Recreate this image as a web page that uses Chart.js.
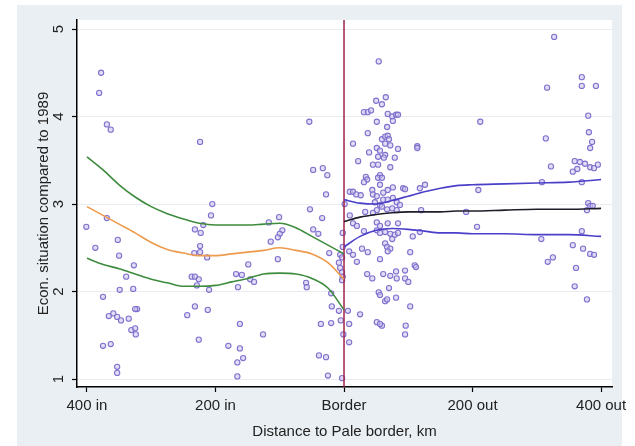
<!DOCTYPE html>
<html>
<head>
<meta charset="utf-8">
<script src="https://cdn.jsdelivr.net/npm/chart.js@4.4.0/dist/chart.umd.min.js"></script>
<style>
  html, body { margin: 0; padding: 0; background: #fff; }
</style>
</head>
<body>
<canvas id="myChart" width="635" height="446"></canvas>
<script>
'use strict';

// axis ticks
let xTickValues = [-400, -200, 0, 200, 400];
let xTickLabels = ['400 in', '200 in', 'Border', '200 out', '400 out'];
let yTickValues = [1, 2, 3, 4, 5];

// respondents inside the Pale (km, score)
let insideDist = [
  -378, -381, -369, -363, -224, -54, -48, -33, -26, -28,
  -205, -207, -369, -401, -53, -101, -34, -117, -219, -232,
  -223, -48, -40, -96, -100, -103, -114, -352, -387, -224,
  -233, -224, -350, -213, -23, -103, -327, -149, -168, -159,
  -146, -140, -339, -237, -232, -226, -229, -165, -349, -328,
  -210, -59, -58, -20, -375, -322, -325, -232, -212, -359,
  -366, -353, -347, -335, -244, -19, -8, -162, -36, -20,
  -5, -331, -325, -324, -126, -226, -375, -363, -180, -162,
  -157, -166, -39, -28, -353, -353, -166, -25, -3, -6,
  -3, -6, -3, -2, -3, -8, -2, -2, -1
];
let insideEcon = [
  4.50, 4.27, 3.91, 3.85, 3.71, 3.94, 3.39, 3.41, 3.33, 3.11,
  3.00, 2.87, 2.84, 2.74, 2.94, 2.85, 2.84, 2.79, 2.76, 2.71,
  2.67, 2.71, 2.66, 2.70, 2.66, 2.62, 2.57, 2.59, 2.50, 2.52,
  2.44, 2.45, 2.41, 2.39, 2.44, 2.37, 2.30, 2.31, 2.20, 2.19,
  2.14, 2.11, 2.17, 2.17, 2.17, 2.14, 2.07, 2.05, 2.02, 2.03,
  2.02, 2.10, 2.05, 1.98, 1.94, 1.80, 1.80, 1.83, 1.79, 1.75,
  1.72, 1.71, 1.67, 1.69, 1.73, 1.83, 1.78, 1.63, 1.63, 1.64,
  1.67, 1.56, 1.58, 1.51, 1.51, 1.45, 1.38, 1.40, 1.38, 1.35,
  1.24, 1.19, 1.27, 1.25, 1.14, 1.07, 1.03, 1.04, 1.01, 2.42,
  2.39, 2.27, 2.22, 2.17, 2.13, 2.33, 2.67, 2.51, 1.51
];

// respondents outside the Pale
let outsideDist = [
  54, 65, 50, 59, 31, 37, 42, 68, 75, 81,
  84, 76, 51, 37, 67, 59, 64, 68, 70, 64,
  14, 114, 114, 51, 56, 72, 84, 39, 53, 64,
  62, 79, 22, 45, 53, 72, 56, 53, 59, 34,
  36, 31, 56, 9, 14, 19, 26, 44, 45, 51,
  61, 68, 76, 92, 95, 118, 126, 9, 48, 56,
  61, 68, 76, 82, 87, 51, 59, 67, 75, 82,
  120, 33, 45, 14, 20, 51, 56, 68, 84, 51,
  56, 64, 72, 79, 75, 64, 84, 107, 118, 31,
  67, 72, 68, 28, 37, 103, 56, 20, 110, 112,
  36, 44, 61, 72, 81, 95, 82, 95, 100, 54,
  56, 64, 67, 70, 81, 103, 25, 51, 59, 56,
  96, 95, 8, 8, 6, 1, 8, 14,
  327, 316, 370, 370, 392, 380, 212, 314, 381, 386,
  383, 322, 359, 367, 375, 383, 389, 395, 356, 363,
  308, 370, 209, 190, 380, 383, 378, 387, 207, 307,
  317, 325, 356, 372, 383, 389, 361, 359, 378, 370
];
let outsideEcon = [
  4.63, 4.22, 4.18, 4.14, 4.05, 4.05, 4.07, 4.03, 4.00, 4.02,
  4.02, 3.95, 3.94, 3.81, 3.88, 3.74, 3.77, 3.78, 3.74, 3.69,
  3.69, 3.66, 3.64, 3.64, 3.61, 3.67, 3.63, 3.59, 3.54, 3.56,
  3.53, 3.53, 3.49, 3.45, 3.45, 3.42, 3.33, 3.30, 3.30, 3.31,
  3.28, 3.25, 3.22, 3.14, 3.14, 3.11, 3.10, 3.16, 3.11, 3.09,
  3.13, 3.16, 3.19, 3.18, 3.17, 3.18, 3.22, 2.87, 3.02, 2.99,
  3.05, 3.05, 3.07, 3.02, 2.99, 2.93, 2.97, 2.94, 2.95, 2.93,
  2.93, 2.91, 2.90, 2.78, 2.75, 2.79, 2.75, 2.78, 2.78, 2.70,
  2.67, 2.68, 2.66, 2.65, 2.60, 2.55, 2.67, 2.63, 2.68, 2.69,
  2.51, 2.49, 2.46, 2.49, 2.45, 2.45, 2.37, 2.34, 2.30, 2.28,
  2.20, 2.15, 2.20, 2.18, 2.23, 2.24, 2.15, 2.15, 2.11, 1.99,
  1.96, 1.89, 1.91, 2.04, 1.93, 1.83, 1.74, 1.65, 1.61, 1.63,
  1.61, 1.51, 1.42, 1.63, 1.78, 3.00, 2.46, 2.42,
  4.91, 4.33, 4.45, 4.35, 4.35, 4.01, 3.94, 3.75, 3.82, 3.71,
  3.64, 3.43, 3.49, 3.48, 3.46, 3.42, 3.41, 3.45, 3.37, 3.40,
  3.25, 3.25, 3.16, 2.91, 3.01, 2.98, 2.93, 2.98, 2.74, 2.60,
  2.34, 2.39, 2.53, 2.49, 2.43, 2.42, 2.27, 2.06, 1.91, 2.69
];

// fitted curves inside
let fitInDist = [-400, -375, -350, -325, -300, -275, -250, -225, -200, -175, -150, -125, -100, -75, -50, -25, 0];
let fitInHigh = [3.54, 3.39, 3.22, 3.08, 2.97, 2.89, 2.83, 2.78, 2.76, 2.76, 2.76, 2.77, 2.78, 2.73, 2.63, 2.53, 2.43];
let fitInMean = [2.97, 2.87, 2.77, 2.67, 2.56, 2.48, 2.44, 2.41, 2.41, 2.43, 2.45, 2.47, 2.50, 2.47, 2.43, 2.33, 2.14];
let fitInLow  = [2.38, 2.31, 2.26, 2.20, 2.14, 2.10, 2.06, 2.06, 2.07, 2.11, 2.15, 2.20, 2.21, 2.20, 2.15, 2.04, 1.79];

// fitted curves outside
let fitOutDist = [0, 25, 50, 75, 100, 125, 150, 175, 200, 250, 300, 350, 400];
let fitOutHigh = [3.05, 3.01, 3.00, 3.04, 3.09, 3.14, 3.18, 3.21, 3.22, 3.23, 3.24, 3.25, 3.28];
let fitOutMean = [2.80, 2.85, 2.88, 2.90, 2.91, 2.91, 2.91, 2.92, 2.92, 2.93, 2.94, 2.94, 2.95];
let fitOutLow  = [2.51, 2.63, 2.70, 2.72, 2.71, 2.69, 2.67, 2.67, 2.66, 2.66, 2.65, 2.65, 2.63];

let xMin = -415.5, xMax = 417;
let yMin = 0.909, yMax = 5.103;

let FONT = '"Liberation Sans", Arial, sans-serif';

function toPoints(xs, ys) {
  let out = [];
  for (let i = 0; i < xs.length; i++) {
    out.push({x: xs[i], y: ys[i]});
  }
  return out;
}

function curve(xs, ys, color) {
  return {
    data: toPoints(xs, ys),
    showLine: true,
    borderColor: color,
    borderWidth: 1.6,
    pointRadius: 0,
    tension: 0.4,
    cubicInterpolationMode: 'monotone',
    order: 0
  };
}

let dots = {
  data: toPoints(insideDist, insideEcon).concat(toPoints(outsideDist, outsideEcon)),
  pointRadius: 2.6,
  borderWidth: 1.1,
  borderColor: 'rgb(128,112,205)',
  backgroundColor: 'rgba(205,198,242,0.6)',
  order: 2
};

let borderLine = {
  data: [{x: 0, y: yMin}, {x: 0, y: yMax}],
  showLine: true,
  borderColor: '#a3204a',
  borderWidth: 1.5,
  pointRadius: 0,
  order: 1
};

// grey frame, white plot area, rotated y labels
let backdrop = {
  id: 'backdrop',
  beforeDraw(chart) {
    let ctx = chart.ctx;
    let a = chart.chartArea;
    ctx.save();
    ctx.fillStyle = '#e9eff3';
    ctx.fillRect(17, 5, 605, 441);
    ctx.fillStyle = '#fff';
    ctx.fillRect(a.left, a.top, a.right - a.left, a.bottom - a.top);
    ctx.restore();
  },
  afterDraw(chart) {
    let ctx = chart.ctx;
    let ys = chart.scales.y;
    ctx.save();
    ctx.font = '15px ' + FONT;
    ctx.fillStyle = '#222';
    ctx.textAlign = 'center';
    ctx.textBaseline = 'middle';
    for (let v of yTickValues) {
      ctx.save();
      ctx.translate(59, ys.getPixelForValue(v));
      ctx.rotate(-Math.PI / 2);
      ctx.fillText(String(v), 0, 0);
      ctx.restore();
    }
    ctx.restore();
  }
};

let ctx = document.getElementById('myChart').getContext('2d');
new Chart(ctx, {
  type: 'scatter',
  data: {
    datasets: [
      curve(fitInDist, fitInHigh, '#3d8b3d'),
      curve(fitInDist, fitInMean, '#ee9a4d'),
      curve(fitInDist, fitInLow, '#3d8b3d'),
      curve(fitOutDist, fitOutHigh, '#4a3fc8'),
      curve(fitOutDist, fitOutMean, '#1e1e2a'),
      curve(fitOutDist, fitOutLow, '#4a3fc8'),
      borderLine,
      dots
    ]
  },
  options: {
    responsive: false,
    animation: false,
    devicePixelRatio: 1,
    layout: { padding: { left: 0, top: 20, right: 23, bottom: 0 } },
    plugins: { legend: { display: false }, tooltip: { enabled: false } },
    scales: {
      x: {
        type: 'linear',
        min: xMin,
        max: xMax,
        afterBuildTicks: s => { s.ticks = xTickValues.map(v => ({value: v})); },
        afterFit: s => { s.height = 59; },
        ticks: {
          autoSkip: false,
          maxRotation: 0,
          padding: 5,
          color: '#222',
          font: { family: FONT, size: 15 },
          callback: v => xTickLabels[xTickValues.indexOf(v)]
        },
        grid: { drawOnChartArea: false, tickLength: 5, tickColor: '#000', tickWidth: 1.2 },
        border: { color: '#000', width: 1.5 },
        title: {
          display: true,
          text: 'Distance to Pale border, km',
          color: '#222',
          font: { family: FONT, size: 15 },
          padding: { top: 0, bottom: 5 }
        }
      },
      y: {
        type: 'linear',
        min: yMin,
        max: yMax,
        afterBuildTicks: s => { s.ticks = yTickValues.map(v => ({value: v})); },
        afterFit: s => { s.width = 77; },
        ticks: { display: false },
        grid: { color: '#e8edf1', lineWidth: 1, tickLength: 5, tickColor: '#000', tickWidth: 1.2 },
        border: { color: '#000', width: 1.5 },
        title: {
          display: true,
          text: 'Econ. situation compared to 1989',
          color: '#222',
          font: { family: FONT, size: 15 },
          padding: { top: 35, bottom: 0 }
        }
      }
    }
  },
  plugins: [backdrop]
});
</script>
</body>
</html>
